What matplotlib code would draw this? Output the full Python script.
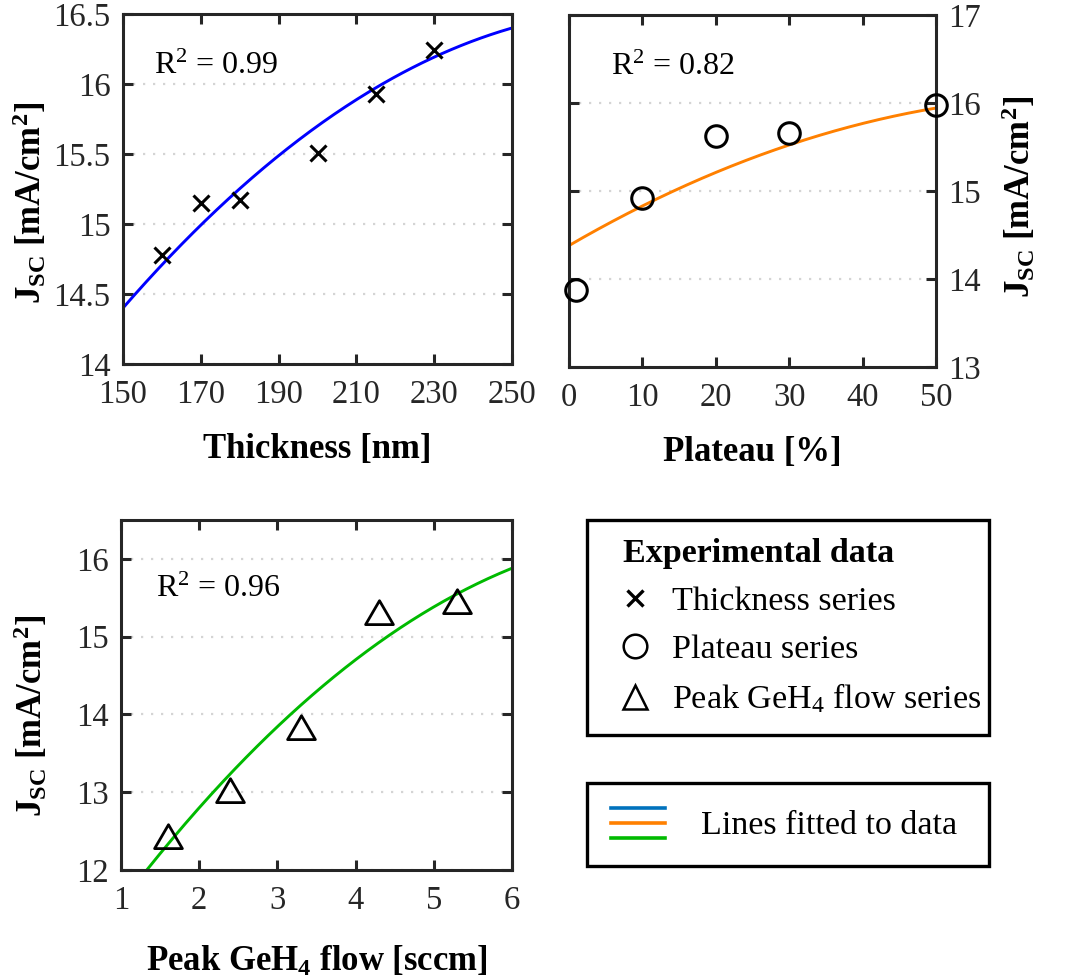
import numpy as np
import matplotlib
matplotlib.use("Agg")
import matplotlib.pyplot as plt
from matplotlib.path import Path
from matplotlib.lines import Line2D
from matplotlib.patches import Rectangle
from matplotlib.legend_handler import HandlerBase

# ------------------------------------------------------------
# Data
# ------------------------------------------------------------
thickness_nm = [160, 170, 180, 200, 215, 230]
thickness_jsc = [14.78, 15.15, 15.17, 15.51, 15.93, 16.24]
thickness_fit = [14.4, 0.032, -1.2e-4]      # jsc = a + b*(x-150) + c*(x-150)^2
thickness_r2 = "0.99"

plateau_pct = [1, 10, 20, 30, 50]
plateau_jsc = [13.87, 14.92, 15.62, 15.66, 15.98]
plateau_fit = [14.38, 0.0484, -3.43e-4]     # jsc = a + b*x + c*x^2
plateau_r2 = "0.82"

geh4_flow = [1.6, 2.4, 3.3, 4.3, 5.3]
geh4_jsc = [12.43, 13.02, 13.83, 15.30, 15.45]
geh4_fit = [10.17, 1.4968, -0.09086]        # jsc = a + b*x + c*x^2
geh4_r2 = "0.96"

# ------------------------------------------------------------
# Style
# ------------------------------------------------------------
plt.rcParams["font.family"] = ["Liberation Serif", "DejaVu Serif"]
plt.rcParams["mathtext.fontset"] = "custom"
plt.rcParams["mathtext.rm"] = "Liberation Serif"
plt.rcParams["mathtext.it"] = "Liberation Serif:italic"
plt.rcParams["mathtext.bf"] = "Liberation Serif:bold"
plt.rcParams["mathtext.default"] = "regular"

DARK = "#262626"
BLUE_LINE = "#0000FF"
ORANGE = "#FF8000"
GREEN = "#00BA00"
LEGEND_BLUE = "#0072BD"

TICK_FS = 23.5
LABEL_FS = 25
TEXT_FS = 24.5
R2_FS = 23
JSC_LABEL = r"J$_{\mathbf{SC}}$ [mA/cm$^{\mathbf{2}}$]"

# equilateral triangle marker
tri = Path([(-1, -0.8), (1, -0.8), (0, 0.92), (-1, -0.8)],
           [Path.MOVETO, Path.LINETO, Path.LINETO, Path.CLOSEPOLY])

W, H = 1080, 980
fig = plt.figure(figsize=(W / 100, H / 100), dpi=100)


def px_axes(left, top, right, bottom):
    return fig.add_axes([left / W, 1 - bottom / H, (right - left) / W, (bottom - top) / H])


def style_axes(ax, right_side=False):
    for s in ax.spines.values():
        s.set_linewidth(2.2)
        s.set_color(DARK)
    ax.tick_params(direction="in", length=7, width=2.2, colors=DARK,
                   labelsize=TICK_FS, top=True, right=True, left=True)
    ax.tick_params(axis="x", pad=11)
    ax.tick_params(axis="y", pad=9)
    if right_side:
        ax.yaxis.tick_right()
        ax.yaxis.set_label_position("right")
        ax.tick_params(left=True)
    ax.yaxis.grid(True, linestyle=(0, (1, 3.5)), color="#d4d4d4", linewidth=1.6)
    ax.set_axisbelow(True)


def quad(coef, x, x0=0.0):
    return coef[0] + coef[1] * (x - x0) + coef[2] * (x - x0) ** 2


# Thickness series
ax1 = px_axes(123, 14, 512, 364)
style_axes(ax1)
xf = np.linspace(150, 250, 200)
ax1.plot(xf, quad(thickness_fit, xf, 150), color=BLUE_LINE, lw=2.1, zorder=2)
ax1.plot(thickness_nm, thickness_jsc, "x", color="black", ms=11, mew=2.2, zorder=3)
ax1.set_xlim(150, 250)
ax1.set_ylim(14, 16.5)
ax1.set_xticks(range(150, 251, 20))
ax1.set_yticks([14, 14.5, 15, 15.5, 16, 16.5])
ax1.set_yticklabels(["14", "14.5", "15", "15.5", "16", "16.5"])
ax1.set_xlabel("Thickness [nm]", fontsize=LABEL_FS, fontweight="bold", labelpad=17)
ax1.set_ylabel(JSC_LABEL, fontsize=LABEL_FS, fontweight="bold")
ax1.yaxis.set_label_coords(-0.19, 0.46)
ax1.text(0.08, 0.83, "R$^2$ = " + thickness_r2, transform=ax1.transAxes,
         fontsize=R2_FS, color="black")

# Plateau series
ax2 = px_axes(569, 15, 936, 367)
style_axes(ax2, right_side=True)
xf = np.linspace(0, 50, 200)
ax2.plot(xf, quad(plateau_fit, xf), color=ORANGE, lw=2.1, zorder=2)
ax2.plot(plateau_pct, plateau_jsc, "o", mfc="none", mec="black", ms=15.5, mew=2.2,
         zorder=3, clip_on=False)
ax2.set_xlim(0, 50)
ax2.set_ylim(13, 17)
ax2.set_xticks(range(0, 51, 10))
ax2.set_yticks([13, 14, 15, 16, 17])
ax2.set_xlabel("Plateau [%]", fontsize=LABEL_FS, fontweight="bold", labelpad=17)
ax2.set_ylabel(JSC_LABEL, fontsize=LABEL_FS, fontweight="bold")
ax2.yaxis.set_label_coords(1.175, 0.483)
ax2.text(0.115, 0.83, "R$^2$ = " + plateau_r2, transform=ax2.transAxes,
         fontsize=R2_FS, color="black")

# Peak GeH4 flow series
ax3 = px_axes(121, 520, 512, 870)
style_axes(ax3)
xf = np.linspace(1.33, 6, 200)
ax3.plot(xf, quad(geh4_fit, xf), color=GREEN, lw=2.1, zorder=2)
ax3.plot(geh4_flow, geh4_jsc, linestyle="none", marker=tri, mfc="none", mec="black",
         ms=20, mew=2.0, zorder=3)
ax3.set_xlim(1, 6)
ax3.set_ylim(12, 16.5)
ax3.set_xticks(range(1, 7))
ax3.set_yticks([12, 13, 14, 15, 16])
ax3.set_xlabel("Peak GeH$_4$ flow [sccm]", fontsize=LABEL_FS, fontweight="bold",
               labelpad=21)
ax3.set_ylabel(JSC_LABEL, fontsize=LABEL_FS, fontweight="bold")
ax3.yaxis.set_label_coords(-0.182, 0.44)
ax3.text(0.09, 0.78, "R$^2$ = " + geh4_r2, transform=ax3.transAxes,
         fontsize=R2_FS, color="black")


# ------------------------------------------------------------
# Legends (boxes drawn separately so the padding can be set freely)
# ------------------------------------------------------------
class StackedLines(HandlerBase):
    def create_artists(self, legend, orig_handle, xdescent, ydescent,
                       width, height, fontsize, trans):
        arts = []
        for i, c in enumerate(orig_handle):
            y = height / 2 + (1 - i) * 10.8 - ydescent
            ln = Line2D([-xdescent, width - xdescent], [y, y], color=c, lw=2.6,
                        transform=trans)
            arts.append(ln)
        return arts


for top, bottom in [(520, 735), (783, 866)]:
    fig.patches.append(Rectangle((587 / W, 1 - bottom / H), 402 / W, (bottom - top) / H,
                                 transform=fig.transFigure, fill=False,
                                 ec="black", lw=2.4))

marker_handles = [
    Line2D([], [], ls="none", marker="x", color="black", ms=11, mew=2.4),
    Line2D([], [], ls="none", marker="o", mfc="none", mec="black", ms=17, mew=1.8),
    Line2D([], [], ls="none", marker="^", mfc="none", mec="black", ms=17, mew=1.8),
]
marker_labels = ["Thickness series", "Plateau series", "Peak GeH$_4$ flow series"]

fig.legend(marker_handles, marker_labels, loc="upper left",
           bbox_to_anchor=(623 / W, 1 - 538 / H),
           fontsize=TEXT_FS, title="Experimental data",
           title_fontproperties={"weight": "bold", "size": TEXT_FS},
           alignment="left", frameon=False, borderpad=0,
           labelspacing=0.5, handlelength=0.7, handletextpad=0.75,
           borderaxespad=0)

colors = (LEGEND_BLUE, ORANGE, GREEN)
fig.legend([colors], ["Lines fitted to data"], loc="center left",
           bbox_to_anchor=(611 / W, 1 - 826 / H),
           fontsize=TEXT_FS, frameon=False, borderpad=0,
           handlelength=1.6, handletextpad=1.05, borderaxespad=0,
           handler_map={tuple: StackedLines()})

fig.savefig("out.png", dpi=100)
